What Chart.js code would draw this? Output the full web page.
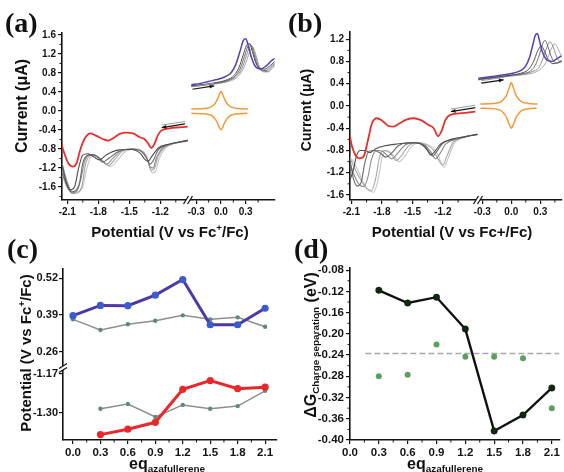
<!DOCTYPE html>
<html><head><meta charset="utf-8">
<script src="https://cdn.jsdelivr.net/npm/chart.js@4"></script>
<style>
html,body{margin:0;padding:0;background:#fff;}
body{width:564px;height:472px;overflow:hidden;position:relative;font-family:"Liberation Sans",Arial,sans-serif;}
.box{position:absolute;}
.lbl{position:absolute;font-family:"Liberation Serif","Times New Roman",serif;font-weight:bold;font-size:28px;line-height:1;color:#111;z-index:5;}
.t{position:absolute;font-weight:bold;color:#111;white-space:nowrap;line-height:1;transform:translate(-50%,-50%);z-index:5;}
.rot{transform:translate(-50%,-50%) rotate(-90deg);}
.t sup{font-size:65%;vertical-align:0.55em;line-height:0;}
.t sub{font-size:62%;vertical-align:-0.35em;line-height:0;}
</style></head><body>
<div class="box" style="left:0;top:0"><canvas id="ca" width="282" height="236"></canvas></div>
<div class="box" style="left:282px;top:0"><canvas id="cb" width="282" height="236"></canvas></div>
<div class="box" style="left:0;top:236px"><canvas id="cc" width="282" height="236"></canvas></div>
<div class="box" style="left:282px;top:236px"><canvas id="cd" width="282" height="236"></canvas></div>

<div class="lbl" style="left:5px;top:9px">(a)</div>
<div class="lbl" style="left:288px;top:9px">(b)</div>
<div class="lbl" style="left:7px;top:235px">(c)</div>
<div class="lbl" style="left:294px;top:235px">(d)</div>

<div class="t rot" style="left:22px;top:106px;font-size:16px">Current (μA)</div>
<div class="t" style="left:170px;top:231px;font-size:15px">Potential (V vs Fc<sup>+</sup>/Fc)</div>
<div class="t rot" style="left:306px;top:110px;font-size:14px">Current (μA)</div>
<div class="t" style="left:452px;top:231px;font-size:15px">Potential (V vs Fc+/Fc)</div>
<div class="t rot" style="left:25px;top:353px;font-size:15px">Potential (V vs Fc<sup>+</sup>/Fc)</div>
<div class="t" style="left:167px;top:464px;font-size:16px">eq<sub>azafullerene</sub></div>
<div class="t rot" style="left:311px;top:345px;font-size:16px">ΔG<sub>Charge separation</sub> (eV)</div>
<div class="t" style="left:445px;top:464px;font-size:16px">eq<sub>azafullerene</sub></div>

<script>
// ================= DATA =================
// ---- Panel (a): CV, left (reduction) segment ----
const aTicksY = [-1.6,-1.2,-0.8,-0.4,0.0,0.4,0.8,1.2,1.6];
const aTicksXL = [-2.1,-1.8,-1.5,-1.2];
const aTicksXR = [-0.3,0.0,0.3];
const aRedX = [-2.155,-2.122,-2.09,-2.045,-2.01,-1.975,-1.93,-1.875,-1.817,-1.753,-1.704,-1.656,-1.592,-1.528,-1.463,-1.399,-1.351,-1.319,-1.286,-1.254,-1.222,-1.19,-1.11,-1.013,-0.935];
const aRedY = [-0.72,-0.93,-1.10,-1.17,-1.10,-0.82,-0.575,-0.47,-0.526,-0.596,-0.625,-0.575,-0.484,-0.456,-0.47,-0.554,-0.596,-0.68,-0.78,-0.68,-0.505,-0.414,-0.365,-0.344,-0.33];
const aG1X = [-2.15,-2.11,-2.07,-2.03,-1.99,-1.95,-1.9,-1.84,-1.79,-1.72,-1.6,-1.48,-1.39,-1.35,-1.32,-1.28,-1.22,-1.12,-0.935];
const aG1Y = [-1.15,-1.5,-1.66,-1.6,-1.2,-0.93,-0.9,-0.97,-1.03,-0.92,-0.82,-0.81,-0.9,-1.02,-1.06,-0.95,-0.78,-0.7,-0.62];
const aG2X = [-2.15,-2.1,-2.06,-2.02,-1.98,-1.95,-1.9,-1.85,-1.8,-1.76,-1.7,-1.6,-1.48,-1.38,-1.33,-1.3,-1.27,-1.22,-1.12,-0.935];
const aG2Y = [-1.3,-1.58,-1.7,-1.68,-1.5,-1.1,-0.93,-0.92,-0.98,-1.08,-1.0,-0.85,-0.8,-0.86,-1.0,-1.12,-1.05,-0.82,-0.71,-0.63];
const aG3X = [-2.15,-2.1,-2.05,-2.0,-1.97,-1.93,-1.88,-1.82,-1.76,-1.72,-1.66,-1.58,-1.48,-1.38,-1.33,-1.3,-1.27,-1.24,-1.18,-1.1,-0.935];
const aG3Y = [-1.1,-1.5,-1.72,-1.66,-1.45,-1.05,-0.92,-0.95,-1.05,-1.12,-1.0,-0.84,-0.8,-0.85,-0.98,-1.18,-1.2,-1.0,-0.78,-0.7,-0.62];
const aG4X = [-2.15,-2.1,-2.05,-2.0,-1.96,-1.92,-1.86,-1.8,-1.74,-1.7,-1.64,-1.56,-1.46,-1.36,-1.32,-1.29,-1.26,-1.22,-1.16,-1.08,-0.935];
const aG4Y = [-1.25,-1.6,-1.74,-1.72,-1.6,-1.1,-0.92,-0.97,-1.1,-1.15,-1.02,-0.84,-0.8,-0.87,-1.05,-1.25,-1.22,-0.95,-0.77,-0.69,-0.62];
const aG5X = [-2.15,-2.1,-2.05,-2.0,-1.95,-1.91,-1.86,-1.79,-1.73,-1.68,-1.62,-1.54,-1.44,-1.35,-1.31,-1.28,-1.25,-1.21,-1.15,-1.06,-0.935];
const aG5Y = [-1.35,-1.62,-1.72,-1.7,-1.6,-1.2,-0.93,-0.98,-1.1,-1.17,-1.05,-0.86,-0.8,-0.9,-1.1,-1.3,-1.28,-1.0,-0.78,-0.68,-0.62];
// ---- Panel (a): right (oxidation) segment ----
const aPurX = [-0.36,-0.25,-0.15,-0.05,0.05,0.12,0.18,0.23,0.27,0.30,0.33,0.37,0.42,0.48,0.55,0.62,0.65];
const aPurY = [0.55,0.58,0.62,0.66,0.72,0.80,0.98,1.25,1.48,1.52,1.38,1.12,0.93,0.88,0.95,1.07,1.10];
const aU1X = [-0.36,-0.2,-0.05,0.08,0.16,0.22,0.27,0.31,0.345,0.38,0.42,0.47,0.53,0.60,0.65];
const aU1Y = [0.53,0.56,0.60,0.66,0.75,0.92,1.18,1.38,1.42,1.25,1.02,0.90,0.88,0.96,1.04];
const aU2X = [-0.36,-0.2,-0.05,0.09,0.17,0.235,0.285,0.325,0.36,0.395,0.435,0.485,0.545,0.60,0.65];
const aU2Y = [0.52,0.55,0.59,0.65,0.73,0.90,1.15,1.35,1.40,1.22,0.98,0.86,0.85,0.92,1.01];
const aU3X = [-0.36,-0.2,-0.05,0.10,0.18,0.25,0.30,0.34,0.375,0.41,0.45,0.50,0.56,0.61,0.65];
const aU3Y = [0.52,0.55,0.58,0.64,0.72,0.88,1.12,1.32,1.37,1.20,0.96,0.84,0.83,0.90,0.98];
const aU4X = [-0.36,-0.2,-0.05,0.11,0.19,0.26,0.315,0.355,0.39,0.425,0.465,0.515,0.57,0.62,0.65];
const aU4Y = [0.51,0.54,0.57,0.63,0.70,0.85,1.08,1.28,1.33,1.17,0.94,0.82,0.82,0.89,0.95];
const aFcX1 = [-0.36,-0.2,-0.12,-0.08,-0.06,-0.04,-0.02,0.0,0.02,0.04,0.06,0.08,0.12,0.2,0.33];
const aFcY1 = [0.04,0.05,0.085,0.14,0.19,0.26,0.35,0.41,0.35,0.26,0.19,0.14,0.085,0.05,0.04];
const aFcX2 = [-0.36,-0.2,-0.12,-0.08,-0.06,-0.04,-0.02,0.0,0.02,0.04,0.06,0.08,0.12,0.2,0.32];
const aFcY2 = [-0.05,-0.06,-0.09,-0.15,-0.20,-0.26,-0.35,-0.40,-0.35,-0.26,-0.20,-0.15,-0.09,-0.06,-0.05];
// arrows (a): [xStart, yStart, xEnd, yEnd]
const aArrowL = [-0.961,-0.274,-1.186,-0.35];
const aArrowR = [-0.346,0.457,-0.082,0.526];

// ---- Panel (b) ----
const bTicksY = [-1.6,-1.2,-0.8,-0.4,0.0,0.4,0.8,1.2];
const bTicksXL = [-2.1,-1.8,-1.5,-1.2];
const bTicksXR = [-0.3,0.0,0.3];
const bRedX = [-2.113,-2.093,-2.06,-2.02,-1.98,-1.936,-1.897,-1.848,-1.80,-1.733,-1.684,-1.634,-1.552,-1.487,-1.421,-1.34,-1.29,-1.247,-1.208,-1.175,-1.126,-1.011,-0.88];
const bRedY = [-0.55,-0.73,-0.88,-0.94,-0.91,-0.61,-0.31,-0.22,-0.26,-0.36,-0.37,-0.32,-0.24,-0.22,-0.25,-0.34,-0.40,-0.54,-0.43,-0.25,-0.16,-0.13,-0.10];
const bG1X = [-2.11,-2.08,-2.05,-2.01,-1.96,-1.92,-1.86,-1.78,-1.68,-1.58,-1.48,-1.40,-1.35,-1.32,-1.28,-1.22,-1.12,-1.0,-0.86];
const bG1Y = [-1.32,-1.15,-0.9,-0.8,-0.8,-0.84,-0.77,-0.72,-0.69,-0.67,-0.66,-0.70,-0.80,-0.88,-0.82,-0.68,-0.60,-0.56,-0.51];
const bG2X = [-2.11,-2.08,-2.04,-2.0,-1.97,-1.93,-1.88,-1.82,-1.76,-1.71,-1.64,-1.55,-1.46,-1.38,-1.33,-1.30,-1.26,-1.2,-1.1,-0.98,-0.86];
const bG2Y = [-1.0,-1.3,-1.44,-1.35,-1.05,-0.82,-0.8,-0.84,-0.92,-0.86,-0.72,-0.66,-0.66,-0.72,-0.84,-0.90,-0.82,-0.67,-0.60,-0.55,-0.51];
const bG3X = [-2.11,-2.07,-2.02,-1.98,-1.94,-1.9,-1.85,-1.79,-1.74,-1.70,-1.65,-1.57,-1.47,-1.38,-1.32,-1.27,-1.23,-1.17,-1.07,-0.97,-0.86];
const bG3Y = [-1.05,-1.25,-1.42,-1.45,-1.3,-0.95,-0.8,-0.82,-0.9,-0.95,-0.86,-0.70,-0.66,-0.70,-0.82,-0.95,-0.86,-0.68,-0.60,-0.55,-0.51];
const bG4X = [-2.11,-2.06,-2.0,-1.95,-1.9,-1.86,-1.82,-1.77,-1.71,-1.66,-1.61,-1.54,-1.45,-1.36,-1.29,-1.24,-1.20,-1.16,-1.10,-1.0,-0.86];
const bG4Y = [-0.95,-1.15,-1.35,-1.48,-1.52,-1.3,-0.9,-0.8,-0.86,-0.98,-0.9,-0.72,-0.66,-0.70,-0.80,-0.98,-1.06,-0.90,-0.66,-0.57,-0.51];
const bG5X = [-2.11,-2.05,-2.0,-1.94,-1.88,-1.84,-1.80,-1.75,-1.69,-1.63,-1.58,-1.51,-1.43,-1.34,-1.27,-1.22,-1.19,-1.15,-1.09,-1.0,-0.86];
const bG5Y = [-0.92,-1.1,-1.3,-1.5,-1.55,-1.35,-0.95,-0.8,-0.88,-1.0,-0.92,-0.73,-0.66,-0.70,-0.80,-1.0,-1.1,-0.95,-0.68,-0.57,-0.51];
const bPurX = [-0.34,-0.2,-0.08,0.04,0.10,0.15,0.19,0.22,0.25,0.27,0.29,0.32,0.36,0.42,0.48,0.52];
const bPurY = [0.50,0.53,0.56,0.60,0.64,0.72,0.88,1.08,1.28,1.30,1.18,0.98,0.84,0.80,0.86,0.90];
const bU1X = [-0.34,-0.15,0.02,0.12,0.18,0.23,0.27,0.31,0.34,0.38,0.43,0.48,0.52];
const bU1Y = [0.48,0.52,0.56,0.60,0.66,0.80,0.98,1.08,1.00,0.84,0.76,0.78,0.82];
const bU2X = [-0.34,-0.15,0.02,0.14,0.20,0.25,0.29,0.32,0.35,0.38,0.42,0.47,0.52];
const bU2Y = [0.48,0.52,0.56,0.59,0.63,0.74,0.92,1.10,1.18,1.06,0.86,0.77,0.80];
const bU3X = [-0.34,-0.15,0.02,0.15,0.22,0.28,0.32,0.36,0.40,0.43,0.46,0.50,0.52];
const bU3Y = [0.47,0.51,0.55,0.58,0.62,0.68,0.82,1.02,1.15,1.08,0.92,0.80,0.79];
const bU4X = [-0.34,-0.15,0.02,0.16,0.24,0.30,0.35,0.39,0.42,0.45,0.48,0.50,0.52];
const bU4Y = [0.47,0.51,0.54,0.57,0.60,0.66,0.76,0.92,1.05,1.12,1.04,0.96,0.90];
const bFcX1 = [-0.32,-0.18,-0.10,-0.07,-0.05,-0.035,-0.017,0.0,0.017,0.035,0.05,0.07,0.10,0.18,0.27];
const bFcY1 = [0.036,0.045,0.085,0.14,0.19,0.26,0.35,0.42,0.35,0.26,0.19,0.14,0.085,0.045,0.036];
const bFcX2 = [-0.32,-0.18,-0.10,-0.07,-0.05,-0.035,-0.017,0.0,0.017,0.035,0.05,0.07,0.10,0.18,0.26];
const bFcY2 = [-0.04,-0.05,-0.09,-0.15,-0.20,-0.27,-0.35,-0.40,-0.35,-0.27,-0.20,-0.15,-0.09,-0.05,-0.04];
const bArrowL = [-0.88,-0.03,-1.12,-0.10];
const bArrowR = [-0.31,0.41,-0.08,0.47];

// ---- Panel (c) ----
const cTicksX = [0.0,0.3,0.6,0.9,1.2,1.5,1.8,2.1];
const cTicksYTop = [0.26,0.39,0.52];
const cTicksYBot = [-1.30,-1.17];
const cEqOx = [0.0,0.3,0.6,0.9,1.2,1.5,1.8,2.1];
const cOxBlue = [0.388,0.424,0.423,0.460,0.515,0.356,0.356,0.414];
const cOxGray = [0.375,0.338,0.358,0.370,0.389,0.375,0.382,0.349];
const cEqRed = [0.3,0.6,0.9,1.2,1.5,1.8,2.1];
const cRedRed = [-1.372,-1.354,-1.331,-1.221,-1.192,-1.219,-1.214];
const cRedGray = [-1.286,-1.270,-1.313,-1.273,-1.286,-1.277,-1.226];

// ---- Panel (d) ----
const dTicksX = [0.0,0.3,0.6,0.9,1.2,1.5,1.8,2.1];
const dTicksY = [-0.40,-0.36,-0.32,-0.28,-0.24,-0.20,-0.16,-0.12,-0.08];
const dEq = [0.3,0.6,0.9,1.2,1.5,1.8,2.1];
const dBlack = [-0.118,-0.142,-0.131,-0.191,-0.383,-0.353,-0.302];
const dGreen = [-0.280,-0.277,-0.220,-0.243,-0.243,-0.246,-0.340];
const dRefX = [0.16,2.18];
const dRefY = [-0.237,-0.237];

// ================= HELPERS =================
const FONT = '"Liberation Sans", Arial, sans-serif';
const INK = '#141414';
Chart.defaults.font.family = FONT;

function pts(xs, ys){ return xs.map((x,i)=>({x:x, y:ys[i]})); }
function curve(xs, ys, color, w, xid, yid){
  return {type:'line', data:pts(xs,ys), borderColor:color, backgroundColor:color, borderWidth:w,
    pointRadius:0, fill:false, cubicInterpolationMode:'monotone', xAxisID:xid, yAxisID:yid};
}
function axis(o){
  return {
    type:'linear', position:o.pos, min:o.min, max:o.max, stack:o.stack, stackWeight:o.weight,
    grid:{display:true, drawOnChartArea:false, drawTicks:true, tickLength:4, color:INK, lineWidth:1.2},
    border:{display:true, color:INK, width:1.6},
    ticks:{font:{family:FONT, weight:'bold', size:o.fs}, color:INK, padding:o.pad===undefined?2:o.pad,
      autoSkip:false, maxRotation:0, minRotation:0, callback:v=>Number(v).toFixed(o.dec)},
    afterBuildTicks:s=>{ s.ticks = o.ticks.map(v=>({value:v})); },
    afterFit:s=>{ if(s.isHorizontal()) s.height=o.size; else s.width=o.size;
      s.paddingLeft=0; s.paddingRight=0; s.paddingTop=0; s.paddingBottom=0; }
  };
}
function minors(ticks){ const out=[]; const st=ticks[1]-ticks[0];
  out.push(ticks[0]-st/2); for(let i=0;i<ticks.length;i++){ out.push(ticks[i]+st/2);} return out; }

const minorPlugin = {id:'minor', afterDraw(chart, args, opts){
  const ctx = chart.ctx; ctx.save(); ctx.strokeStyle = INK; ctx.lineWidth = 1;
  const sc = opts.list || {};
  for(const id in sc){ const s = chart.scales[id]; if(!s) continue;
    for(const v of sc[id]){ if(v < s.min || v > s.max) continue; const p = s.getPixelForValue(v);
      ctx.beginPath();
      if(s.isHorizontal()){ ctx.moveTo(p, s.top); ctx.lineTo(p, s.top+2.5); }
      else { ctx.moveTo(s.right, p); ctx.lineTo(s.right-2.5, p); }
      ctx.stroke(); } }
  ctx.restore(); }};

const breakPlugin = {id:'brk', afterDraw(chart, args, opts){
  if(!opts.scale) return; const ctx = chart.ctx; const s = chart.scales[opts.scale]; const ca = chart.chartArea;
  ctx.save(); ctx.strokeStyle = INK; ctx.lineWidth = 1.3; ctx.fillStyle = '#fff';
  if(opts.dir === 'x'){ const px = s.right, py = ca.bottom;
    ctx.fillRect(px-2, py-2, 4, 4);
    for(const dx of [-2,2]){ ctx.beginPath(); ctx.moveTo(px+dx-2.5, py+4); ctx.lineTo(px+dx+2.5, py-4); ctx.stroke(); } }
  else { const px = ca.left, py = s.bottom;
    ctx.fillRect(px-2, py-2, 4, 4);
    for(const dy of [-2,2]){ ctx.beginPath(); ctx.moveTo(px-4, py+dy+2.5); ctx.lineTo(px+4, py+dy-2.5); ctx.stroke(); } }
  ctx.restore(); }};

const arrowPlugin = {id:'arrows', afterDatasetsDraw(chart, args, opts){
  const ctx = chart.ctx; ctx.save();
  for(const a of (opts.list||[])){
    const sx = chart.scales[a.xid], sy = chart.scales.y;
    const x1 = sx.getPixelForValue(a.v[0]), y1 = sy.getPixelForValue(a.v[1]);
    const x2 = sx.getPixelForValue(a.v[2]), y2 = sy.getPixelForValue(a.v[3]);
    ctx.strokeStyle = '#9a9a9a'; ctx.lineWidth = 1;
    ctx.beginPath(); ctx.moveTo(x1, y1-2.5); ctx.lineTo(x2, y2-2.5); ctx.stroke();
    ctx.strokeStyle = INK; ctx.fillStyle = INK; ctx.lineWidth = 1.2;
    ctx.beginPath(); ctx.moveTo(x1, y1); ctx.lineTo(x2, y2); ctx.stroke();
    const ang = Math.atan2(y2-y1, x2-x1), L = 5;
    ctx.beginPath(); ctx.moveTo(x2, y2);
    ctx.lineTo(x2 - L*Math.cos(ang-0.4), y2 - L*Math.sin(ang-0.4));
    ctx.lineTo(x2 - L*Math.cos(ang+0.4), y2 - L*Math.sin(ang+0.4));
    ctx.closePath(); ctx.fill();
  }
  ctx.restore(); }};

const basePlugins = {legend:{display:false}, tooltip:{enabled:false}};
const PLUG = [minorPlugin, breakPlugin, arrowPlugin];

// ================= PANEL (a) =================
const RED = '#e5302c', PUR = '#5a3db4', ORG = '#f2993a';
const GR = ['#4f4f4f','#6c6c6c','#8a8a8a','#a8a8a8','#c6c6c6'];
new Chart(document.getElementById('ca'), {
  type:'line',
  data:{datasets:[
    curve(aRedX,aRedY,RED,1.8,'xL','y'),
    curve(aPurX,aPurY,PUR,1.5,'xR','y'),
    curve(aFcX1,aFcY1,ORG,1.5,'xR','y'),
    curve(aFcX2,aFcY2,ORG,1.5,'xR','y'),
    curve(aG1X,aG1Y,GR[0],1.1,'xL','y'), curve(aG2X,aG2Y,GR[1],1.1,'xL','y'),
    curve(aG3X,aG3Y,GR[2],1.1,'xL','y'), curve(aG4X,aG4Y,GR[3],1.1,'xL','y'),
    curve(aG5X,aG5Y,GR[4],1.1,'xL','y'),
    curve(aU1X,aU1Y,GR[0],1,'xR','y'), curve(aU2X,aU2Y,GR[1],1,'xR','y'),
    curve(aU3X,aU3Y,GR[2],1,'xR','y'), curve(aU4X,aU4Y,GR[3],1,'xR','y')
  ]},
  options:{responsive:false, animation:false,
    layout:{padding:{left:30, top:33, right:7, bottom:16}},
    scales:{
      xL: axis({pos:'bottom', stack:'xa', weight:126, min:-2.151, max:-0.932, ticks:aTicksXL, dec:1, fs:10, size:20}),
      xR: axis({pos:'bottom', stack:'xa', weight:87, min:-0.40, max:0.655, ticks:aTicksXR, dec:1, fs:10, size:20}),
      y: axis({pos:'left', min:-1.874, max:1.64, ticks:aTicksY, dec:1, fs:10, size:32})
    },
    plugins:Object.assign({}, basePlugins, {
      minor:{list:{y:minors(aTicksY), xL:minors(aTicksXL), xR:minors(aTicksXR)}},
      brk:{scale:'xL', dir:'x'},
      arrows:{list:[{xid:'xL', v:aArrowL},{xid:'xR', v:aArrowR}]}
    })
  },
  plugins:PLUG
});

// ================= PANEL (b) =================
new Chart(document.getElementById('cb'), {
  type:'line',
  data:{datasets:[
    curve(bRedX,bRedY,RED,1.8,'xL','y'),
    curve(bPurX,bPurY,PUR,1.5,'xR','y'),
    curve(bFcX1,bFcY1,ORG,1.5,'xR','y'),
    curve(bFcX2,bFcY2,ORG,1.5,'xR','y'),
    curve(bG1X,bG1Y,GR[0],1.1,'xL','y'), curve(bG2X,bG2Y,GR[1],1.1,'xL','y'),
    curve(bG3X,bG3Y,GR[2],1.1,'xL','y'), curve(bG4X,bG4Y,GR[3],1.1,'xL','y'),
    curve(bG5X,bG5Y,GR[4],1.1,'xL','y'),
    curve(bU1X,bU1Y,GR[0],1,'xR','y'), curve(bU2X,bU2Y,GR[1],1,'xR','y'),
    curve(bU3X,bU3Y,GR[2],1,'xR','y'), curve(bU4X,bU4Y,GR[3],1,'xR','y')
  ]},
  options:{responsive:false, animation:false,
    layout:{padding:{left:36, top:32, right:2, bottom:16}},
    scales:{
      xL: axis({pos:'bottom', stack:'xb', weight:128, min:-2.113, max:-0.854, ticks:bTicksXL, dec:1, fs:10, size:20}),
      xR: axis({pos:'bottom', stack:'xb', weight:84, min:-0.344, max:0.524, ticks:bTicksXR, dec:1, fs:10, size:20}),
      y: axis({pos:'left', min:-1.69, max:1.33, ticks:bTicksY, dec:1, fs:10, size:32})
    },
    plugins:Object.assign({}, basePlugins, {
      minor:{list:{y:minors(bTicksY), xL:minors(bTicksXL), xR:minors(bTicksXR)}},
      brk:{scale:'xL', dir:'x'},
      arrows:{list:[{xid:'xL', v:bArrowL},{xid:'xR', v:bArrowR}]}
    })
  },
  plugins:PLUG
});

// ================= PANEL (c) =================
function series(xs, ys, line, w, ptColor, r, yid){
  return {type:'line', data:pts(xs,ys), borderColor:line, borderWidth:w, backgroundColor:ptColor,
    pointBackgroundColor:ptColor, pointBorderColor:ptColor, pointRadius:r, pointBorderWidth:0,
    tension:0, fill:false, xAxisID:'x', yAxisID:yid};
}
new Chart(document.getElementById('cc'), {
  type:'line',
  data:{datasets:[
    series(cEqOx, cOxBlue, '#4b3aa8', 3, '#3b5bcf', 3.6, 'yTop'),
    series(cEqRed, cRedRed, '#e8292b', 3, '#e8292b', 3.6, 'yBot'),
    series(cEqOx, cOxGray, '#8e8e8e', 1.5, '#5d8a7c', 2.2, 'yTop'),
    series(cEqRed, cRedGray, '#8e8e8e', 1.5, '#5d8a7c', 2.2, 'yBot')
  ]},
  options:{responsive:false, animation:false,
    layout:{padding:{left:30, top:33, right:5, bottom:16}},
    scales:{
      x: axis({pos:'bottom', min:-0.109, max:2.23, ticks:cTicksX, dec:1, fs:11.5, size:16}),
      yBot: axis({pos:'left', stack:'yc', weight:72, min:-1.39, max:-1.15, ticks:cTicksYBot, dec:2, fs:11, size:33, pad:1}),
      yTop: axis({pos:'left', stack:'yc', weight:99, min:0.204, max:0.552, ticks:cTicksYTop, dec:2, fs:11, size:33, pad:1})
    },
    plugins:Object.assign({}, basePlugins, {
      minor:{list:{x:minors(cTicksX)}},
      brk:{scale:'yTop', dir:'y'}
    })
  },
  plugins:PLUG
});

// ================= PANEL (d) =================
new Chart(document.getElementById('cd'), {
  type:'line',
  data:{datasets:[
    {type:'line', data:pts(dEq,dBlack), borderColor:'#111', borderWidth:2.4, tension:0,
      pointRadius:3.2, pointBackgroundColor:'#0e2a10', pointBorderColor:'#111', pointBorderWidth:0.5, fill:false},
    {type:'line', data:pts(dEq,dGreen), showLine:false, pointRadius:3, pointBackgroundColor:'#5e9e5e',
      pointBorderColor:'#5e9e5e', pointBorderWidth:0, borderColor:'#5e9e5e'},
    {type:'line', data:pts(dRefX,dRefY), borderColor:'#a9a9a9', borderWidth:1.4, borderDash:[6,3],
      pointRadius:0, fill:false}
  ]},
  options:{responsive:false, animation:false,
    layout:{padding:{left:36, top:32, right:2, bottom:16}},
    scales:{
      x: axis({pos:'bottom', min:0, max:2.18, ticks:dTicksX, dec:1, fs:11.5, size:16}),
      y: axis({pos:'left', min:-0.40, max:-0.076, ticks:dTicksY, dec:2, fs:11.5, size:32})
    },
    plugins:Object.assign({}, basePlugins, {
      minor:{list:{y:minors(dTicksY), x:minors(dTicksX)}}
    })
  },
  plugins:PLUG
});
</script>
</body></html>
